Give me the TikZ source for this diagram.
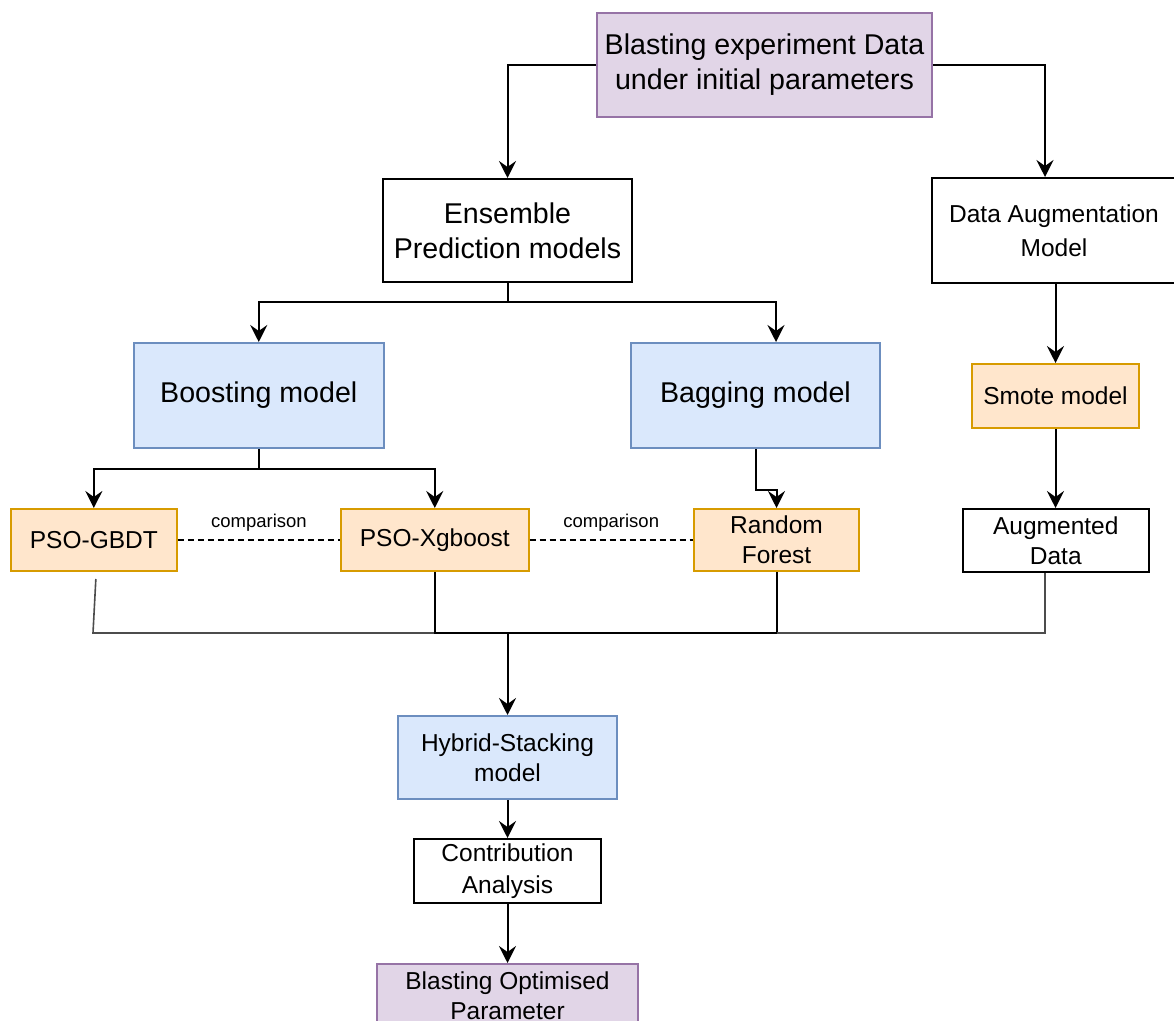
\documentclass[tikz,border=0pt]{standalone}
\usepackage{fontspec}
\setmainfont{Liberation Sans}
\usetikzlibrary{arrows.meta,calc}
\definecolor{pfill}{HTML}{E1D5E7}
\definecolor{pline}{HTML}{9673A6}
\definecolor{bfill}{HTML}{DAE8FC}
\definecolor{bline}{HTML}{6C8EBF}
\definecolor{ofill}{HTML}{FFE6CC}
\definecolor{oline}{HTML}{D79B00}
\begin{document}
\begin{tikzpicture}[x=0.5pt,y=-0.5pt,
  box/.style={draw, line width=1pt, align=center, inner sep=0pt, font=\fontsize{12.25}{15}\selectfont},
  bigtxt/.style={font=\fontsize{14.3}{17.5}\selectfont},
  purp/.style={fill=pfill, draw=pline},
  blu/.style={fill=bfill, draw=bline},
  org/.style={fill=ofill, draw=oline},
  sz/.style 2 args={minimum width=#1*0.5pt, minimum height=#2*0.5pt},
  arr/.style={-{Stealth[length=8.5pt,width=8.5pt,inset=3pt]}, line width=1pt},
  conn/.style={line width=1pt},
  thinline/.style={line width=0.8pt, draw=black!70},
  cmpline/.style={line width=0.8pt, dash pattern=on 3pt off 2pt},
  cmp/.style={midway, yshift=8.5pt, font=\fontsize{9.25}{11}\selectfont, inner sep=0pt}
  ]
\useasboundingbox (0,0) rectangle (1174,1021);
\clip (0,0) rectangle (1174,1021);

\node[box,purp,bigtxt,sz={335}{104}] (top) at (764.5,65) {Blasting experiment Data\\under initial parameters};
\node[box,bigtxt,sz={249}{103}] (ens) at (507.5,230.5) {Ensemble\\Prediction models};
\node[box,sz={245}{105},font=\fontsize{12.25}{17}\selectfont] (aug) at (1054,230.5) {Data Augmentation\\Model};
\node[box,blu,bigtxt,sz={249.5}{105}] (boost) at (258.75,395.5) {Boosting model};
\node[box,blu,bigtxt,sz={249}{105}] (bag) at (755.5,395.5) {Bagging model};
\node[box,org,sz={167}{64}] (smote) at (1055.5,396) {Smote model};
\node[box,org,sz={166}{62}] (gbdt) at (93.85,540) {PSO-GBDT};
\node[box,org,sz={187.5}{62}] (xg) at (434.75,540) {PSO-Xgboost};
\node[box,org,sz={165}{62}] (rf) at (776.5,540) {Random\\Forest};
\node[box,sz={186.4}{63}] (augd) at (1055.8,540.5) {Augmented\\Data};
\node[box,blu,sz={219.3}{83}] (hyb) at (507.5,757.5) {Hybrid-Stacking\\model};
\node[box,sz={187}{64},font=\fontsize{12.25}{16}\selectfont] (contrib) at (507.5,871) {Contribution\\Analysis};
\node[box,purp,sz={261}{64}] (opt) at (507.5,996) {Blasting Optimised\\Parameter};

% top level
\draw[arr] (top.west) -| (ens.north);
\draw[arr] (top.east) -| ($(aug.north)+(-9,0)$);

% ensemble split
\coordinate (j1) at (507.5,302);
\draw[conn] (ens.south) -- (j1);
\draw[arr] (j1) -| (boost.north);
\draw[arr] (j1) -| ($(bag.north)+(20.5,0)$);

% boosting split
\draw[conn] (boost.south) -- ++(0,20) coordinate (j2);
\draw[arr] (j2) -| (gbdt.north);
\draw[arr] (j2) -| (xg.north);

% bagging to random forest
\draw[arr] (bag.south) -- ++(0,41) -| (rf.north);

% augmentation branch
\draw[arr] (aug.south -| smote.north) -- (smote.north);
\draw[arr] (smote.south) -- (smote.south |- augd.north);

% comparisons
\draw[cmpline] (gbdt.east) -- node[cmp]{comparison} (xg.west);
\draw[cmpline] (xg.east) -- node[cmp]{comparison} (rf.west);

% bus to stacking
\coordinate (m) at (507.5,633);
\coordinate (g0) at ($(gbdt.south)+(2,7)$);
\draw[thinline] (g0) -- (93,633) -- (m);
\draw[conn] (xg.south) -- (xg.south |- m) -- (m);
\draw[conn] (rf.south) -- (rf.south |- m) -- (m);
\coordinate (a0) at ($(augd.south)+(-10.8,0)$);
\draw[thinline] (a0) -- (a0 |- m) -- (rf.south |- m);
\draw[arr] (m) -- (hyb.north);
\draw[arr] (hyb.south) -- (contrib.north);
\draw[arr] (contrib.south) -- (opt.north);
\end{tikzpicture}
\end{document}
